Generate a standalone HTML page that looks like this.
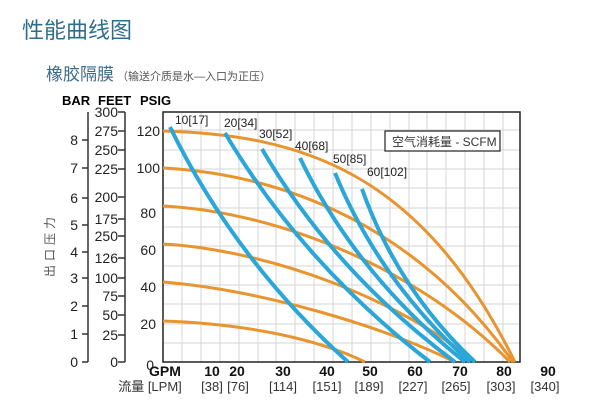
<!DOCTYPE html>
<html><head><meta charset="utf-8"><style>
body{margin:0;background:#fff;width:600px;height:414px;overflow:hidden}
svg text{font-family:"Liberation Sans","Noto Sans CJK SC",sans-serif}
</style></head><body>
<svg width="600" height="414" viewBox="0 0 600 414" xmlns="http://www.w3.org/2000/svg">
<text x="22" y="38" font-size="22" fill="#2f6d8c">性能曲线图</text>
<text x="46" y="80" font-size="17" fill="#3c6a8a">橡胶隔膜</text>
<text x="117" y="80" font-size="11" fill="#555">（输送介质是水—入口为正压）</text>
<text x="62" y="105" font-size="13" font-weight="bold">BAR</text>
<text x="98" y="105" font-size="13" font-weight="bold">FEET</text>
<text x="140" y="105" font-size="13" font-weight="bold">PSIG</text>
<g stroke="#d4d4d4" stroke-width="1">
<path d="M182 112V362M201 112V362M220 112V362M239 112V362M258 112V362M276 112V362M295 112V362M314 112V362M333 112V362M352 112V362M371 112V362M390 112V362M409 112V362M427 112V362M446 112V362M465 112V362M484 112V362M503 112V362"/>
<path d="M163 343H520M163 324H520M163 304H520M163 285H520M163 266H520M163 246H520M163 227H520M163 208H520M163 188H520M163 169H520M163 150H520M163 130H520"/>
</g>
<rect x="163" y="112" width="357" height="250" fill="none" stroke="#222" stroke-width="1.5"/>
<g stroke="#333" stroke-width="1.5" fill="none">
<path d="M88 112V362M82 140H88M82 168H88M82 198H88M82 225H88M82 252H88M82 278H88M82 306H88M82 334H88M82 362H88"/>
<path d="M125 112V362M118 112H125M118 131H125M118 150H125M118 169H125M118 197H125M118 219H125M118 236H125M118 258H125M118 278H125M118 296H125M118 315H125M118 335H125M118 362H125"/>
</g>
<g font-size="14" fill="#222" text-anchor="end">
<text x="78" y="145">8</text><text x="78" y="173">7</text><text x="78" y="203">6</text><text x="78" y="230">5</text><text x="78" y="257">4</text><text x="78" y="283">3</text><text x="78" y="311">2</text><text x="78" y="339">1</text><text x="78" y="367">0</text>
<text x="118" y="117">300</text><text x="118" y="136">275</text><text x="118" y="155">250</text><text x="118" y="174">225</text><text x="118" y="202">200</text><text x="118" y="224">175</text><text x="118" y="241">250</text><text x="118" y="263">126</text><text x="118" y="283">100</text><text x="118" y="301">75</text><text x="118" y="320">50</text><text x="118" y="340">25</text><text x="118" y="367">0</text>
<text x="160" y="136">120</text><text x="160" y="173">100</text><text x="156" y="218">80</text><text x="156" y="255">60</text><text x="156" y="292">40</text><text x="156" y="329">20</text><text x="154" y="370">0</text>
</g>
<text x="0" y="0" font-size="12" fill="#555" text-anchor="middle" letter-spacing="4" transform="translate(54 245) rotate(-90)">出口压力</text>
<g stroke="#e8942f" stroke-width="3" fill="none">
<path d="M163 131C300 135 420 170 515 362"/>
<path d="M163 168C290 175 420 230 513 362"/>
<path d="M163 206C280 212 420 270 510 362"/>
<path d="M163 244C270 250 400 300 475 362"/>
<path d="M163 282C260 290 380 325 455 362"/>
<path d="M163 321C250 324 320 340 365 362"/>
</g>
<g stroke="#2aa6d8" stroke-width="4" fill="none">
<path d="M170 127Q235 260 348 362"/>
<path d="M225 133Q302 263 430 362"/>
<path d="M262 149Q333 271 455 362"/>
<path d="M300 158Q357 276 465 362"/>
<path d="M335 173Q380 282 470 362"/>
<path d="M362 189Q398 290 475 362"/>
</g>
<g font-size="12" fill="#222">
<text x="175" y="124">10[17]</text><text x="224" y="127">20[34]</text><text x="259" y="138">30[52]</text><text x="295" y="150">40[68]</text><text x="333" y="163">50[85]</text><text x="367" y="176">60[102]</text>
</g>
<rect x="385" y="131" width="115" height="20" fill="#fff" stroke="#222" stroke-width="1.2"/>
<text x="392" y="146" font-size="12" fill="#333">空气消耗量 - SCFM</text>
<g font-size="14" font-weight="bold" fill="#111" text-anchor="middle">
<text x="165" y="376">GPM</text><text x="212" y="376">10</text><text x="237" y="376">20</text><text x="283" y="376">30</text><text x="327" y="376">40</text><text x="370" y="376">50</text><text x="415" y="376">60</text><text x="460" y="376">70</text><text x="504" y="376">80</text><text x="548" y="376">90</text>
</g>
<g font-size="13" fill="#333" text-anchor="middle">
<text x="150" y="391">流量 [LPM]</text><text x="212" y="391">[38]</text><text x="238" y="391">[76]</text><text x="283" y="391">[114]</text><text x="327" y="391">[151]</text><text x="369" y="391">[189]</text><text x="413" y="391">[227]</text><text x="456" y="391">[265]</text><text x="501" y="391">[303]</text><text x="545" y="391">[340]</text>
</g>
</svg>
</body></html>
